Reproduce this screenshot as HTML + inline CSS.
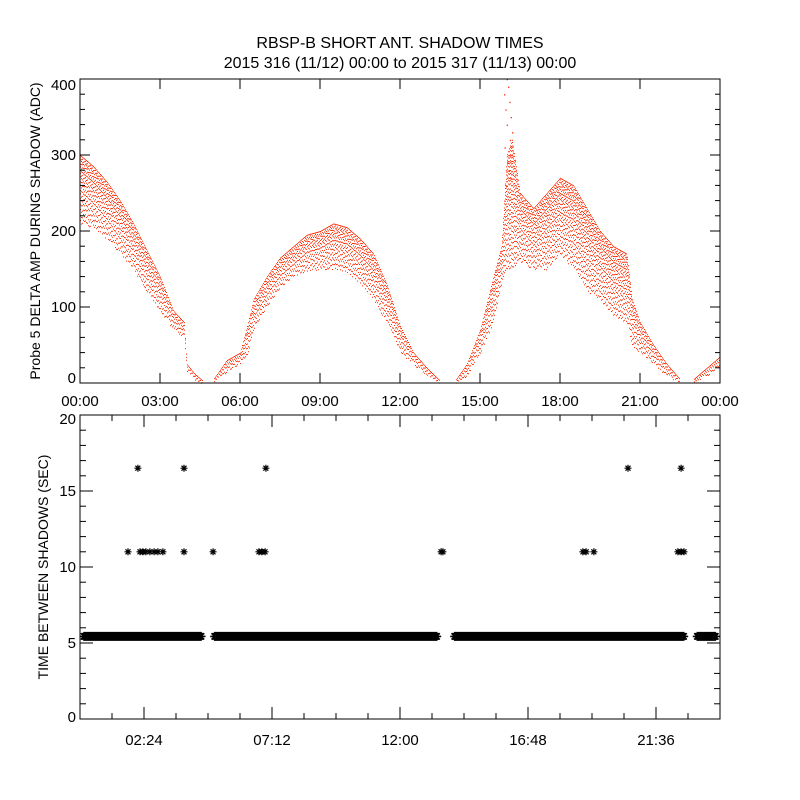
<!DOCTYPE html>
<html><head><meta charset="utf-8"><style>
html,body{margin:0;padding:0;background:#fff}
svg{display:block}
text{font-family:"Liberation Sans",sans-serif;fill:#000}
</style></head><body>
<svg id="c" width="800" height="800" xmlns="http://www.w3.org/2000/svg">
<text x="400" y="48" font-size="16" text-anchor="middle">RBSP-B SHORT ANT. SHADOW TIMES</text>
<text x="400" y="68" font-size="16" text-anchor="middle">2015 316 (11/12) 00:00 to 2015 317 (11/13) 00:00</text>
<g id="top"></g>
<g id="bot"></g>
</svg>
<script>
// Top panel: envelope of delta amplitude (hours, lower, upper)
const ampHours = [0,0.5,1,1.5,2,2.5,3,3.5,3.9,4.0,4.3,4.6, null,
  5.0,5.5,6.0,6.3,6.5,7,7.5,8,8.5,9,9.5,10,10.5,11,11.5,12.0,12.5,13,13.5, null,
  14.1,14.5,15,15.5,15.8,16,16.2,16.5,17,17.5,18,18.5,19,19.5,20,20.5,20.7,21,21.5,22,22.5, null,
  23,23.5,24];
const ampLow = [210,205,190,170,150,120,95,70,60,15,5,0, null,
  0,15,25,40,70,100,125,140,148,150,150,145,130,110,80,40,25,10,0, null,
  0,10,40,80,130,150,150,160,150,150,170,150,120,110,90,80,50,40,25,10,0, null,
  0,10,25];
const ampHigh = [300,285,265,240,210,175,140,95,80,25,12,3, null,
  5,30,40,80,110,140,165,180,195,200,210,205,190,170,130,75,40,20,3, null,
  5,25,70,140,180,300,320,250,230,250,270,260,230,200,180,170,110,80,50,25,5, null,
  5,20,35];
const spikeHours = [15.9,16.0,16.05,16.1,16.15,16.2,15.95,16.1,16.0,16.12,15.92,16.08,16.02,16.18,15.97,16.14];
const spikeVals = [380,400,390,370,350,330,360,300,340,320,310,280,290,300,260,270];
const topYTicks = [0,100,200,300,400];
const topXLabels = ["00:00","03:00","06:00","09:00","12:00","15:00","18:00","21:00","00:00"];
// Bottom panel
const bandSegments = [[0,4.7],[4.9,13.55],[13.9,22.8],[23.0,24]];
const bandValue = 5.5;
const outHours = [1.8,2.25,2.36,2.47,2.62,2.78,2.92,3.11,3.9,4.99,6.71,6.82,6.94,13.54,13.61,18.86,18.98,19.27,22.42,22.54,22.65,2.17,3.9,6.97,20.55,22.54];
const outVals = [11,11,11,11,11,11,11,11,11,11,11,11,11,11,11,11,11,11,11,11,11,16.5,16.5,16.5,16.5,16.5];
const botYTicks = [0,5,10,15,20];
const botXLabels = ["02:24","07:12","12:00","16:48","21:36"];

const NS="http://www.w3.org/2000/svg";
function mk(p,tag,attrs){const e=document.createElementNS(NS,tag);for(const k in attrs)e.setAttribute(k,attrs[k]);p.appendChild(e);return e;}
const L=80,R=720;
const xs=h=>L+(R-L)*h/24;
// top
const T=document.getElementById('top');
const tT=79,tB=383;
const ysT=v=>tB-(tB-tT)*v/400;
let dots="";
for(let i=0;i<ampHours.length-1;i++){
  if(ampHours[i]===null||ampHours[i+1]===null)continue;
  const x0=xs(ampHours[i]),x1=xs(ampHours[i+1]);
  for(let x=Math.ceil(x0);x<x1;x+=1){
    const f=(x-x0)/(x1-x0);
    const lo=ampLow[i]+(ampLow[i+1]-ampLow[i])*f, hi=ampHigh[i]+(ampHigh[i+1]-ampHigh[i])*f;
    const yt=ysT(hi),yb=ysT(lo),span=Math.max(yb-yt,1);
    let k=0;
    for(let y=yt;y<=yb+0.5;k++){
      dots+=`M${x} ${y.toFixed(1)}h1v1h-1z`;
      const rel=(y-yt)/span;
      y+=1.6+rel*3.5+((x*13+k*7)%5)*0.6;
    }
  }
}
const sp=mk(T,'path',{d:dots,fill:'#ff2a00'});


spikeHours.forEach((h,i)=>{
  const r=mk(T,'rect',{x:xs(h),y:ysT(spikeVals[i]),width:1.3,height:1.3,fill:'#ff2a00'});
  
  
});
mk(T,'rect',{x:L,y:tT,width:R-L,height:tB-tT,fill:'none',stroke:'#000','stroke-width':1});
for(let v=0;v<=400;v+=20){const maj=v%100===0;const len=maj?10:5;
  mk(T,'line',{x1:L,x2:L+len,y1:ysT(v),y2:ysT(v),stroke:'#000'});
  mk(T,'line',{x1:R-len,x2:R,y1:ysT(v),y2:ysT(v),stroke:'#000'});}
topYTicks.forEach(v=>{const t=mk(T,'text',{x:L-4,y:ysT(v)+5-(v===0?5:0)+(v===400?6:0),'font-size':15,'text-anchor':'end'});t.textContent=v;
  });
topXLabels.forEach((s,i)=>{const x=xs(i*3);
  mk(T,'line',{x1:x,x2:x,y1:tB,y2:tB-10,stroke:'#000'});mk(T,'line',{x1:x,x2:x,y1:tT,y2:tT+10,stroke:'#000'});
  const t=mk(T,'text',{x:x,y:406,'font-size':15,'text-anchor':'middle'});t.textContent=s;
  });
const yt1=mk(T,'text',{transform:'translate(40,231) rotate(-90)','font-size':14,'text-anchor':'middle'});yt1.textContent="Probe 5 DELTA AMP DURING SHADOW (ADC)";

// bottom
const B=document.getElementById('bot');
const bT=415,bB=719;
const ysB=v=>bB-(bB-bT)*v/20;
function star(x,y,r){let d="";for(let a=0;a<4;a++){const an=a*Math.PI/4;const dx=r*Math.cos(an),dy=r*Math.sin(an);d+=`M${(x-dx).toFixed(1)} ${(y-dy).toFixed(1)}L${(x+dx).toFixed(1)} ${(y+dy).toFixed(1)}`;}return d;}
let bd="";
bandSegments.forEach(s=>{for(let x=xs(s[0])+4;x<=xs(s[1])-4;x+=1){bd+=star(x,ysB(bandValue)+1,4.5);}});
const band=mk(B,'path',{d:bd,stroke:'#000','stroke-width':1.6,fill:'none'});


outHours.forEach((h,i)=>{const p=mk(B,'path',{d:star(xs(h),ysB(outVals[i]),3.5),stroke:'#000','stroke-width':1.2,fill:'none'});
  });
mk(B,'rect',{x:L,y:bT,width:R-L,height:bB-bT,fill:'none',stroke:'#000'});
for(let v=0;v<=20;v++){const maj=v%5===0;const len=maj?13:6;
  mk(B,'line',{x1:L,x2:L+len,y1:ysB(v),y2:ysB(v),stroke:'#000'});
  mk(B,'line',{x1:R-len,x2:R,y1:ysB(v),y2:ysB(v),stroke:'#000'});}
botYTicks.forEach(v=>{const t=mk(B,'text',{x:L-4,y:ysB(v)+5-(v===0?2:0)+(v===20?4:0),'font-size':15,'text-anchor':'end'});t.textContent=v;
  });
for(let k=1;k<20;k++){const x=xs(k*1.2);const maj=k%4===2;const len=maj?12:6;
  mk(B,'line',{x1:x,x2:x,y1:bB,y2:bB-len,stroke:'#000'});mk(B,'line',{x1:x,x2:x,y1:bT,y2:bT+len,stroke:'#000'});}
botXLabels.forEach((s,i)=>{const t=mk(B,'text',{x:xs(2.4+i*4.8),y:745,'font-size':15,'text-anchor':'middle'});t.textContent=s;
  });
const yt2=mk(B,'text',{transform:'translate(48,567) rotate(-90)','font-size':14,'text-anchor':'middle'});yt2.textContent="TIME BETWEEN SHADOWS (SEC)";

</script>
</body></html>
